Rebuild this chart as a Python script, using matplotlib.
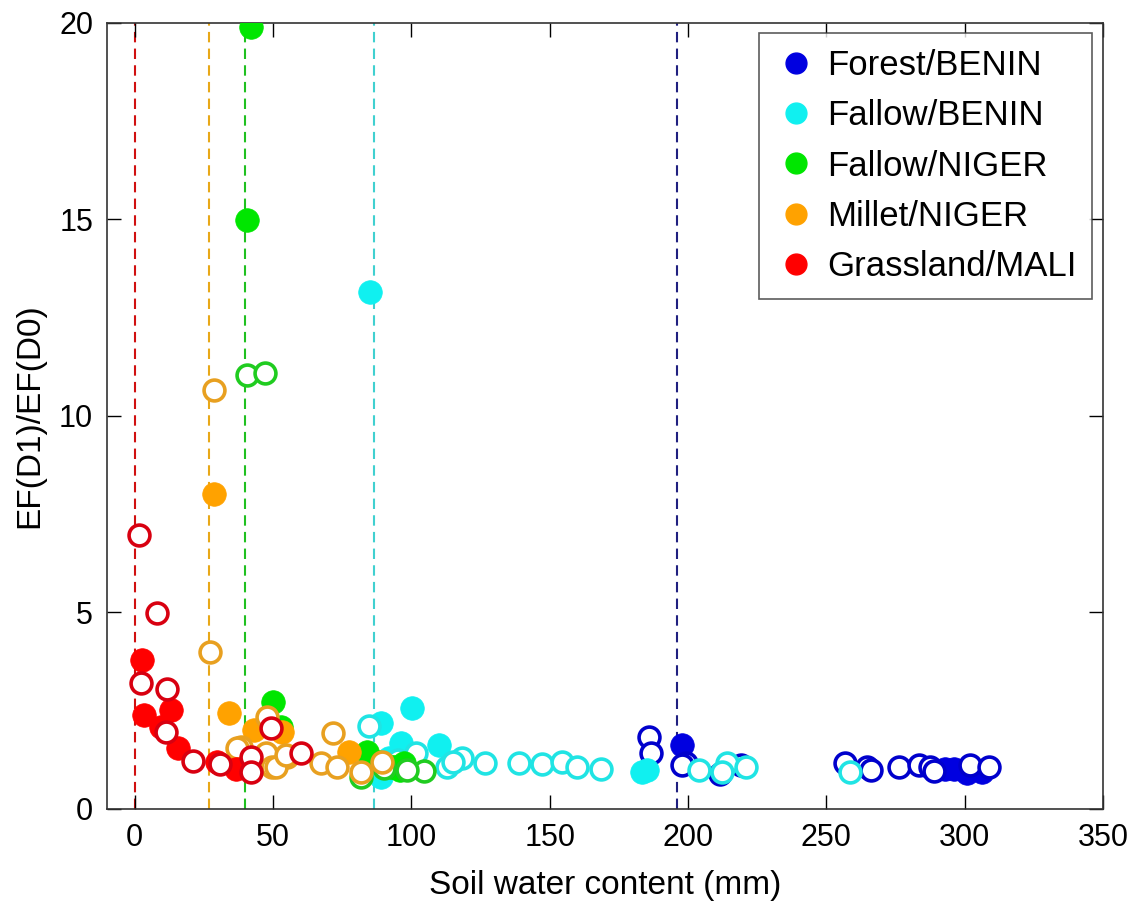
import matplotlib
matplotlib.use("Agg")
import matplotlib.pyplot as plt
from matplotlib.lines import Line2D

plt.rcParams['font.family'] = ['Liberation Sans', 'DejaVu Sans']

# Site names and colours
sites = ["Forest/BENIN", "Fallow/BENIN", "Fallow/NIGER", "Millet/NIGER", "Grassland/MALI"]
fill_colors = ["#0000e0", "#10f0f0", "#00e600", "#ffa200", "#ff0000"]
edge_colors = ["#0000cc", "#20e4e4", "#20cc20", "#e8a020", "#d80010"]
line_colors = ["#202080", "#40d0d0", "#20c020", "#e8a818", "#d01010"]

# Threshold soil water content per site (mm)
thresholds = [196, 86.5, 40, 27, 0]

# Filled markers: soil water content (mm) and EF(D1)/EF(D0)
forest_fill_x = [197.9, 293, 296, 300.9, 306.3]
forest_fill_y = [1.63, 1.03, 1.03, 0.91, 0.95]
forest_open_x = [185.8, 186.5, 199.1, 197.9, 211.7, 219, 256.9, 264.7, 266, 276.2, 283.4, 287.6, 302, 308.7, 289]
forest_open_y = [1.84, 1.42, 1.16, 1.12, 0.9, 1.12, 1.16, 1.08, 0.99, 1.08, 1.12, 1.08, 1.12, 1.08, 0.96]

fbenin_fill_x = [85, 100.1, 88.9, 96.1, 110, 185.3, 183.5, 88.9, 92, 86]
fbenin_fill_y = [13.15, 2.56, 2.18, 1.67, 1.63, 0.99, 0.95, 0.82, 1.3, 1.0]
fbenin_open_x = [84.7, 101.6, 113, 118.4, 126.8, 138.9, 147.3, 154.5, 160, 168.4,
                 203.9, 214.2, 212.4, 220.8, 258.7, 95, 115]
fbenin_open_y = [2.12, 1.42, 1.08, 1.29, 1.16, 1.18, 1.15, 1.2, 1.08, 1.01,
                 0.99, 1.16, 0.95, 1.08, 0.95, 1.25, 1.2]

fniger_fill_x = [41.9, 40.7, 50.1, 52.8, 84.1, 92.5, 97.3, 96, 93.7, 88]
fniger_fill_y = [19.9, 14.99, 2.73, 2.09, 1.46, 1.08, 1.16, 0.99, 1.08, 1.2]
fniger_open_x = [40.7, 47, 81.7, 104.5, 98.5, 90]
fniger_open_y = [11.04, 11.1, 0.82, 0.97, 1.0, 1.05]

millet_fill_x = [28.5, 34.1, 43, 53.4, 77.5]
millet_fill_y = [8.02, 2.43, 2.0, 1.97, 1.46]
millet_open_x = [28.5, 27.1, 48, 38.3, 47.4, 49.8, 55.2, 71.5, 67.2, 73.3, 81.7, 89.5, 37, 51, 54.6]
millet_open_y = [10.66, 4.0, 2.35, 1.58, 1.42, 1.08, 1.33, 1.93, 1.16, 1.08, 0.95, 1.19, 1.54, 1.08, 1.37]

grass_fill_x = [2.8, 3.4, 13, 9.4, 15.5, 29.9, 36.5, 41]
grass_fill_y = [3.79, 2.39, 2.52, 2.09, 1.54, 1.2, 1.03, 1.05]
grass_open_x = [1.6, 8.2, 2.4, 11.5, 11.4, 21.1, 30.9, 42.2, 42, 49.4, 60]
grass_open_y = [6.97, 4.98, 3.2, 3.05, 1.97, 1.23, 1.15, 1.33, 0.95, 2.05, 1.42]

fill_x = [forest_fill_x, fbenin_fill_x, fniger_fill_x, millet_fill_x, grass_fill_x]
fill_y = [forest_fill_y, fbenin_fill_y, fniger_fill_y, millet_fill_y, grass_fill_y]
open_x = [forest_open_x, fbenin_open_x, fniger_open_x, millet_open_x, grass_open_x]
open_y = [forest_open_y, fbenin_open_y, fniger_open_y, millet_open_y, grass_open_y]

fig = plt.figure(figsize=(11.35, 9.05), dpi=100)
ax = fig.add_axes([0.0943, 0.1061, 0.8775, 0.8685])

ms = 17
for i in range(len(sites)):
    ax.plot([thresholds[i], thresholds[i]], [0, 20], ls=(0, (5, 3)), lw=1.5,
            color=line_colors[i], zorder=1)

for i in range(len(sites)):
    ax.plot(fill_x[i], fill_y[i], ls="none", marker="o", ms=ms,
            mfc=fill_colors[i], mec=fill_colors[i], mew=0.5, zorder=2 + i)
    ax.plot(open_x[i], open_y[i], ls="none", marker="o", ms=ms - 2,
            mfc="white", mec=edge_colors[i], mew=2.6, zorder=2 + i)

ax.set_xlim(-10, 350)
ax.set_ylim(0, 20)
ax.set_xticks(range(0, 351, 50))
ax.set_yticks(range(0, 21, 5))
ax.tick_params(direction="in", length=10, width=1, top=True, right=True,
               labelsize=22, pad=10)
for s in ax.spines.values():
    s.set_linewidth(1.2)
    s.set_color("#333333")

ax.set_xlabel("Soil water content (mm)", fontsize=24, labelpad=12)
ax.set_ylabel("EF(D1)/EF(D0)", fontsize=24, labelpad=10)

handles = [Line2D([], [], ls="none", marker="o", ms=15, mfc=c, mec=c) for c in fill_colors]
leg = ax.legend(handles, sites, loc="upper right", bbox_to_anchor=(0.989, 0.987),
                borderaxespad=0, fontsize=25, frameon=True, fancybox=False,
                edgecolor="#333333", handletextpad=0.3, labelspacing=0.5,
                borderpad=0.45, handlelength=1.2)
leg.get_frame().set_linewidth(1.2)
leg.set_zorder(20)

fig.savefig("out.png", dpi=100, facecolor="white")
